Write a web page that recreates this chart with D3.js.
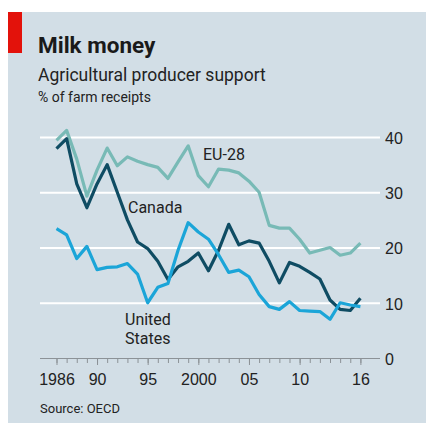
<!DOCTYPE html>
<html lang="en">
<head>
<meta charset="UTF-8">
<title>Milk money</title>
<script src="https://cdnjs.cloudflare.com/ajax/libs/d3/7.8.5/d3.min.js"></script>
<style>
    body { margin: 0; background: #fff; }
    svg { display: block; font-family: Roboto, 'Noto Sans', sans-serif; }
    .grid line { stroke: #fff; stroke-width: 2px; }
    .grid text, .xaxis text { fill: #222; font-size: 16px; }
    .grid .domain, .xaxis .domain { display: none; }
    .xaxis line { stroke: #8c9297; }
    .series { fill: none; stroke-width: 3.2px; stroke-linejoin: round; }
    .label { fill: #222; font-size: 16px; }
</style>
</head>
<body>
<div id="chart"></div>
<script>
// values, % of farm receipts
const years = d3.range(1986, 2017);
const euValues = [39.4, 41.2, 36, 29.3, 34, 38, 34.8, 36.4, 35.6, 35, 34.5, 32.5, 35.5, 38.4, 33, 31,
                  34.2, 34, 33.5, 32, 30, 24, 23.5, 23.5, 21.5, 19, 19.5, 20, 18.6, 19, 20.8];
const canadaValues = [37.9, 39.7, 31.5, 27.2, 31.5, 35, 30, 25, 21, 19.8, 17.5, 14.2, 16.5, 17.5, 19, 15.8,
                      19.5, 24.2, 20.5, 21.2, 20.8, 17.5, 13.6, 17.3, 16.6, 15.5, 14.3, 10.5, 8.8, 8.6, 10.8];
const usValues = [23.4, 22.3, 18, 20.2, 16, 16.4, 16.5, 17.1, 15.2, 10, 12.8, 13.5, 19.5, 24.5, 22.8, 21.5,
                  18.7, 15.5, 15.9, 14.7, 11.5, 9.3, 8.8, 10.2, 8.6, 8.5, 8.4, 7, 10, 9.6, 9.3];
const yTicks = [0, 10, 20, 30, 40];
const xTickYears = [1986, 1990, 1995, 2000, 2005, 2010, 2016];
const xTickLabels = ["1986", "90", "95", "2000", "05", "10", "16"];

const W = 426, H = 423;
const svg = d3.select("#chart").append("svg")
    .attr("width", W).attr("height", H);

// panel + red tag
svg.append("rect").attr("x", 8).attr("y", 12).attr("width", W - 8).attr("height", H - 12)
    .attr("fill", "#d2dee6");
svg.append("rect").attr("x", 8).attr("y", 12).attr("width", 14).attr("height", 41)
    .attr("fill", "#e3120b");

svg.append("text").attr("x", 38).attr("y", 53)
    .attr("font-size", 22.5).attr("font-weight", 700).attr("fill", "#1a1a1a")
    .text("Milk money");
svg.append("text").attr("x", 38).attr("y", 81)
    .attr("font-size", 17.5).attr("fill", "#222")
    .text("Agricultural producer support");
svg.append("text").attr("x", 38).attr("y", 102)
    .attr("font-size", 14).attr("fill", "#222")
    .text("% of farm receipts");

const left = 40, right = 380;
const x = d3.scaleLinear().domain([1986, 2016]).range([56.5, 360.4]);
const y = d3.scaleLinear().domain([0, 40]).range([358, 137]);

// gridlines + right labels
const grid = svg.append("g").attr("class", "grid")
    .attr("transform", `translate(${right},0)`)
    .call(d3.axisRight(y).tickValues(yTicks).tickSize(-(right - left)).tickPadding(5));
grid.selectAll(".tick").filter(d => d === 0).select("line")
    .style("stroke", "#8c9297").style("stroke-width", "1px");
grid.selectAll("text").attr("dy", "0.4em");

// x axis: minor ticks every year, longer major ticks
const xaxis = svg.append("g").attr("class", "xaxis")
    .attr("transform", `translate(0,${y(0)})`);
xaxis.append("g")
    .call(d3.axisBottom(x).tickValues(years).tickSize(5).tickFormat(""));
xaxis.append("g")
    .call(d3.axisBottom(x).tickValues(xTickYears).tickSize(7).tickPadding(9)
        .tickFormat((d, i) => xTickLabels[i]));

const line = d3.line().x((d, i) => x(years[i])).y(d => y(d));

const series = [
    { values: euValues, color: "#78bab6" },
    { values: canadaValues, color: "#0f4c63" },
    { values: usValues, color: "#1ba5d8" }
];
svg.selectAll(".series").data(series).enter().append("path")
    .attr("class", "series")
    .attr("stroke", d => d.color)
    .attr("d", d => line(d.values));

svg.append("text").attr("class", "label").attr("x", 203).attr("y", 160).text("EU-28");
svg.append("text").attr("class", "label").attr("x", 128).attr("y", 213).text("Canada");
svg.append("text").attr("class", "label").attr("x", 125).attr("y", 325).text("United");
svg.append("text").attr("class", "label").attr("x", 125).attr("y", 344).text("States");

svg.append("text").attr("x", 40).attr("y", 413)
    .attr("font-size", 13).attr("fill", "#222")
    .text("Source: OECD");
</script>
</body>
</html>
